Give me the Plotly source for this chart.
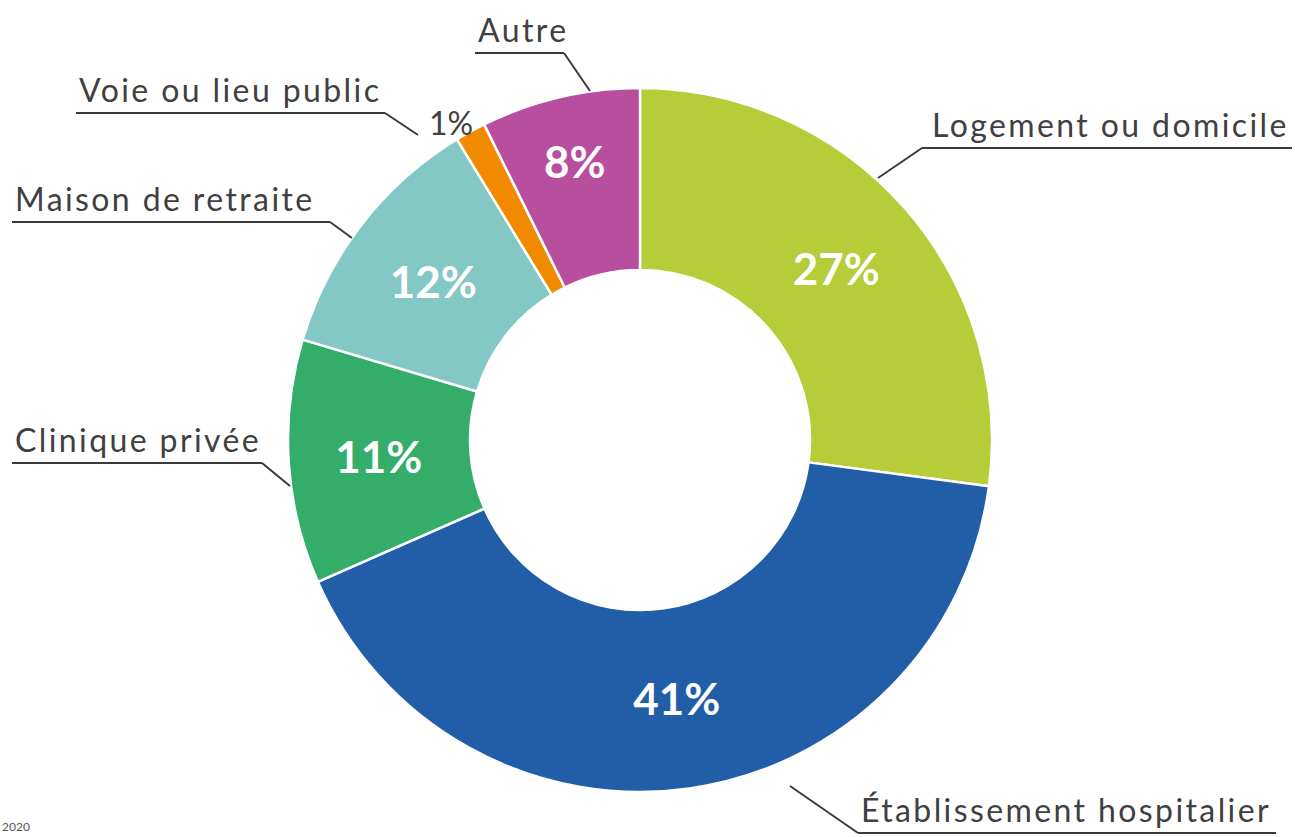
import plotly.graph_objects as go

# ---- data ----
categories = ["Logement ou domicile", "Établissement hospitalier", "Clinique privée",
              "Maison de retraite", "Voie ou lieu public", "Autre"]
values = [27.1, 41.3, 11.2, 11.7, 1.4, 7.3]
display_pct = ["27%", "41%", "11%", "12%", "1%", "8%"]
colors = ["#b6cc38", "#225ea8", "#34ad6b", "#83c8c5", "#f28a00", "#b84f9e"]

W, H = 1295, 837
CX, CY, R = 640, 440, 352

def X(px):
    return px / W

def Y(py):
    return 1 - py / H

# label layout (pixels): underline y, underline x-range, leader start/end, alignment
label_layout = {
    "Logement ou domicile": dict(ux0=922, ux1=1292, uy=148, start=(922, 148), end=(878, 178), align="right"),
    "Établissement hospitalier": dict(ux0=858, ux1=1276, uy=833, start=(858, 833), end=(790, 786), align="left"),
    "Clinique privée": dict(ux0=12, ux1=262, uy=463, start=(262, 463), end=(290, 486), align="left"),
    "Maison de retraite": dict(ux0=12, ux1=330, uy=222, start=(330, 222), end=(352, 238), align="left"),
    "Voie ou lieu public": dict(ux0=76, ux1=385, uy=113, start=(385, 113), end=(418, 135), align="left"),
    "Autre": dict(ux0=475, ux1=564, uy=53, start=(564, 53), end=(590, 91), align="left"),
}

inside_text = [t if v >= 3 else "" for t, v in zip(display_pct, values)]

fig = go.Figure(go.Pie(
    labels=categories, values=values, text=inside_text,
    textinfo="text", textposition="inside", insidetextorientation="horizontal",
    sort=False, direction="clockwise", rotation=0, hole=0.483,
    marker=dict(colors=colors, line=dict(color="white", width=2.5)),
    textfont=dict(family="Lato", size=44, color="white", weight="bold"),
    showlegend=False, hoverinfo="label+text",
    domain=dict(x=[X(CX - R), X(CX + R)], y=[Y(CY + R), Y(CY - R)]),
))

shapes = []
annotations = []
line_col = "#3a3a3a"
for name in categories:
    L = label_layout[name]
    shapes.append(dict(type="line", xref="paper", yref="paper",
                       x0=X(L["ux0"]), x1=X(L["ux1"]), y0=Y(L["uy"]), y1=Y(L["uy"]),
                       line=dict(color=line_col, width=2)))
    shapes.append(dict(type="line", xref="paper", yref="paper",
                       x0=X(L["start"][0]), y0=Y(L["start"][1]),
                       x1=X(L["end"][0]), y1=Y(L["end"][1]),
                       line=dict(color=line_col, width=2)))
    if L["align"] == "left":
        ax, xa = L["ux0"] + 1, "left"
    else:
        ax, xa = L["ux1"] - 1, "right"
    annotations.append(dict(text='<span style="letter-spacing:2.4px">' + name + '</span>',
                            xref="paper", yref="paper",
                            x=X(ax), y=Y(L["uy"] - 2), xanchor=xa, yanchor="bottom",
                            showarrow=False,
                            font=dict(family="Lato", size=32, color="#404040")))

# small slice label shown outside
small_idx = [i for i, v in enumerate(values) if v < 3][0]
annotations.append(dict(text=display_pct[small_idx], xref="paper", yref="paper",
                        x=X(427), y=Y(122), xanchor="left", yanchor="middle",
                        showarrow=False,
                        font=dict(family="Lato", size=32, color="#404040")))

# footer text at bottom-left
annotations.append(dict(text="2020", xref="paper", yref="paper",
                        x=X(0), y=Y(836), xanchor="left", yanchor="bottom",
                        showarrow=False, font=dict(family="Lato", size=12, color="#555555")))

fig.update_layout(width=W, height=H, margin=dict(l=0, r=0, t=0, b=0),
                  paper_bgcolor="white", plot_bgcolor="white",
                  shapes=shapes, annotations=annotations)

fig.write_html("out.html", config={"displayModeBar": False},
               post_script="document.body.style.margin='0';document.body.style.overflow='hidden';")
